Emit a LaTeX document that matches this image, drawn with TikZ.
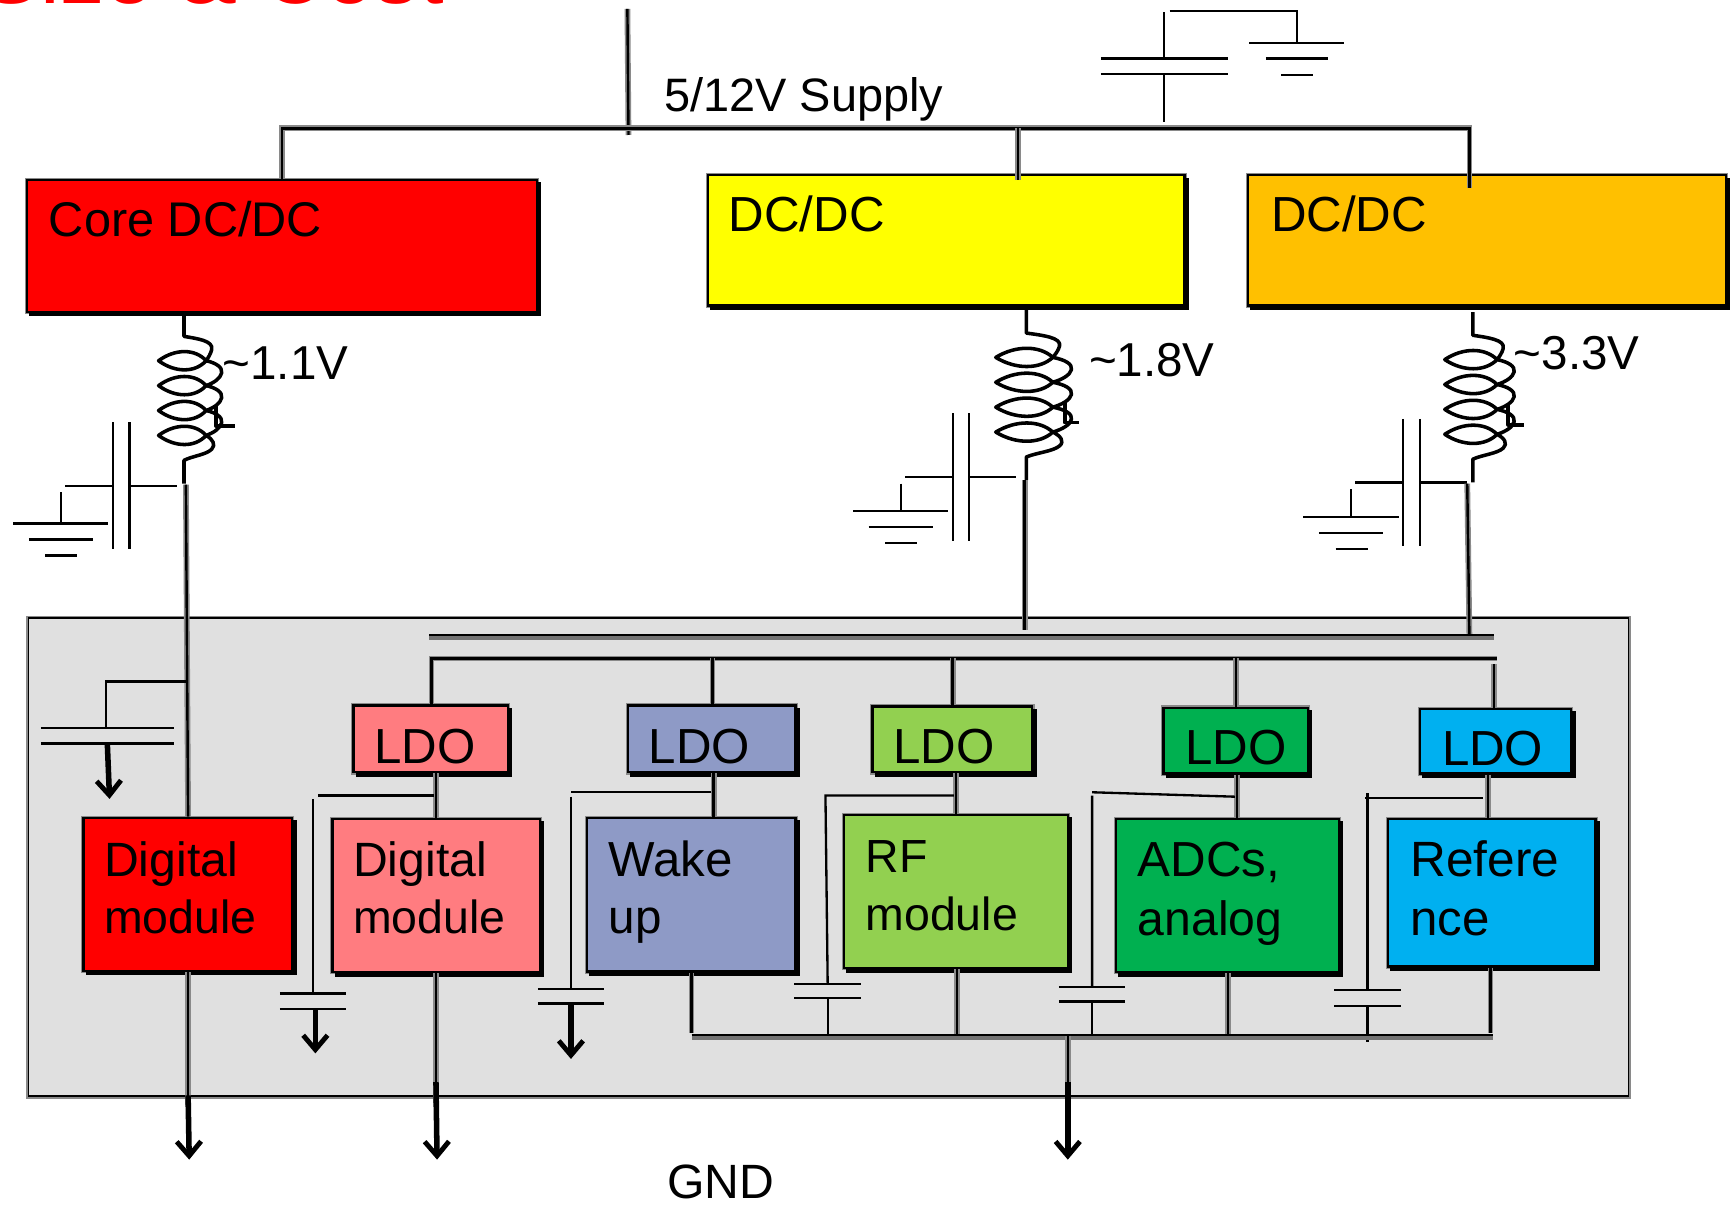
\documentclass[tikz,border=0pt]{standalone}
\usepackage{fontspec}
\setmainfont{Liberation Sans}
\usetikzlibrary{arrows.meta,shadows}
\definecolor{panelgrey}{HTML}{E0E0E0}
\definecolor{cYellow}{HTML}{FFFF00}
\definecolor{cRed}{HTML}{FF0000}
\definecolor{cOrange}{HTML}{FFC000}
\definecolor{cPink}{HTML}{FF7C80}
\definecolor{cBlue}{HTML}{8E9AC6}
\definecolor{cLime}{HTML}{92D050}
\definecolor{cGreen}{HTML}{00B050}
\definecolor{cSky}{HTML}{00B0F0}
\definecolor{halo}{HTML}{8A8A8A}
\newcommand{\fsz}[1]{\fontsize{#1}{52}\selectfont}
\tikzset{
  x=1pt,y=-1pt,
  boxn/.style={rectangle,draw=black,line width=2pt,inner sep=0pt,
    preaction={draw=halo,line width=4pt},
    copy shadow={shadow xshift=3pt,shadow yshift=-3pt,fill=black,draw=black,line width=2pt}},
  panel/.style={rectangle,draw=black,line width=1.6pt,inner sep=0pt,fill=panelgrey,
    preaction={draw=halo,line width=5pt}},
  wire/.style={draw=black,line width=2.2pt,preaction={draw=halo,line width=5.2pt}},
  busw/.style={draw=black,line width=1.8pt,preaction={draw=gray!90!black,line width=5.6pt,transform canvas={yshift=-2pt}}},
  thin wire/.style={draw=black,line width=2.1pt},
  coilw/.style={draw=black,line width=3.2pt,line join=round},
  gnd arrow/.style={draw=black,line width=5pt,-{Straight Barb[length=13pt,width=22pt,line width=4.4pt]}},
  lbl/.style={inner sep=0pt,anchor=base west,text=black},
}
% inductor: start (x,y), horizontal scale, stub end
\newcommand{\mycoil}[4]{%
\begin{scope}[shift={(#1,#2)},xscale=#3]
\draw[coilw] (0,-21) -- (0,0) .. controls (12,2) and (27,4) .. (25,12) .. controls (24,16) and (22,19) .. (20,22)
  .. controls (10,11) and (-8,11) .. (-23,22) .. controls (-8,33) and (10,33) .. (20,22)
  .. controls (29,24) and (35,28) .. (34,33) .. controls (33,38) and (27,42) .. (20,44.5)
  .. controls (10,33.5) and (-8,33.5) .. (-23,44.5) .. controls (-8,55.5) and (10,55.5) .. (20,44.5)
  .. controls (29,46.5) and (35,50.5) .. (34,55.5) .. controls (33,60.5) and (27,64.5) .. (20,67)
  .. controls (10,56) and (-8,56) .. (-23,67) .. controls (-8,78) and (10,78) .. (20,67)
  .. controls (29,69) and (35,73) .. (34,78) .. controls (33,83) and (27,87) .. (20,89.5)
  .. controls (10,78.5) and (-8,78.5) .. (-23,89.5) .. controls (-8,100.5) and (10,100.5) .. (20,89.5)
  .. controls (26,93) and (29,98) .. (25,102) .. controls (20,107) and (8,108) .. (0,112) -- (0,133);
\draw[coilw] (29,62) -- (29,81) -- (#4,81);
\end{scope}}
\newcommand{\vcapgnd}[4]{%
\begin{scope}[shift={(#1,#2)}]
\draw[thin wire] (0,-57.5) -- (0,57.5) (15,-57.5) -- (15,57.5);
\draw[thin wire] (-43,0) -- (0,0) (15,0) -- (#3,0);
\draw[thin wire] (-47,6) -- (-47,#4);
\begin{scope}[shift={(0,#4)}]
\draw[thin wire] (-90,0) -- (-4,0) (-76,14.5) -- (-18,14.5) (-61,29) -- (-32,29);
\end{scope}
\end{scope}}
\begin{document}
\begin{tikzpicture}
\useasboundingbox (0,0) rectangle (1568,1089);
% clipped title
\begin{scope}
\clip (0,0) rectangle (480,12);
\node[lbl,text=cRed] (title) at (-17,3) {\fontsize{80}{80}\selectfont Size \& Cost};
\end{scope}
% panel
\node[panel,minimum width=1446pt,minimum height=432pt,anchor=north west] (pan) at (25,558) {};
% top boxes
\node[boxn,fill=cRed,minimum width=460.5pt,minimum height=119.5pt,anchor=north west] (core) at (23.5,161.5) {};
\node[boxn,fill=cYellow,minimum width=430.5pt,minimum height=117.5pt,anchor=north west] (yel) at (639,157.5) {};
\node[boxn,fill=cOrange,minimum width=431.5pt,minimum height=117.5pt,anchor=north west] (ora) at (1127,157.5) {};
% LDOs
\node[boxn,fill=cPink,minimum width=139.5pt,minimum height=60.5pt,anchor=north west] (l1) at (318.5,636.5) {};
\node[boxn,fill=cBlue,minimum width=151.5pt,minimum height=60.5pt,anchor=north west] (l2) at (566.5,636.5) {};
\node[boxn,fill=cLime,minimum width=144.5pt,minimum height=59.5pt,anchor=north west] (l3) at (787.5,637.5) {};
\node[boxn,fill=cGreen,minimum width=130.5pt,minimum height=59.5pt,anchor=north west] (l4) at (1050.5,638.5) {};
\node[boxn,fill=cSky,minimum width=136.5pt,minimum height=58.5pt,anchor=north west] (l5) at (1282.5,639.5) {};
% modules
\node[boxn,fill=cRed,minimum width=188.5pt,minimum height=138.5pt,anchor=north west] (m0) at (74.5,738) {};
\node[boxn,fill=cPink,minimum width=187.5pt,minimum height=138.5pt,anchor=north west] (m1) at (299.5,739) {};
\node[boxn,fill=cBlue,minimum width=188.5pt,minimum height=138.5pt,anchor=north west] (m2) at (529.5,738.5) {};
\node[boxn,fill=cLime,minimum width=202.5pt,minimum height=138.5pt,anchor=north west] (m3) at (761.5,735.5) {};
\node[boxn,fill=cGreen,minimum width=201.5pt,minimum height=138.5pt,anchor=north west] (m4) at (1007.5,739) {};
\node[boxn,fill=cSky,minimum width=187.5pt,minimum height=133.5pt,anchor=north west] (m5) at (1253.5,739) {};
% supply
\coordinate (supTop) at (567,8);
\coordinate (supJ) at (568,122);
\coordinate (supL) at (255,116);
\coordinate (supM) at (920,116);
\coordinate (supR) at (1328,116);
\draw[wire] (supTop) -- (supJ);
\draw[wire] (core.north -| supL) -- (supL) -- (supR) -- (1328,170);
\draw[wire] (supM) -- (920,163);
% top cap
\coordinate (capT) at (1052,110);
\draw[thin wire] (capT) -- (1052,67) (1052,53) -- (1052,11);
\draw[thin wire] (995,53) -- (1110,53) (995,67) -- (1110,67);
\draw[thin wire] (1057,10) -- (1172,10) -- (1172,39);
\draw[thin wire] (1129,39) -- (1215,39) (1144,53) -- (1200,53) (1158,68) -- (1187,68);
% coils
\mycoil{166.3}{304}{1}{46}
\mycoil{927.5}{301}{1.2}{40}
\mycoil{1331}{303}{1.1}{42}
% vertical caps
\vcapgnd{102}{439}{58}{34}
\vcapgnd{861}{431}{57}{31}
\vcapgnd{1268}{436}{58}{31}
% rails into panel
\coordinate (r1a) at (168,438);
\coordinate (r2a) at (926,434);
\coordinate (r3a) at (1326,437);
\draw[wire] (r1a) -- (m0.north -| 170,0);
\draw[wire] (r2a) -- (926,569);
\draw[wire] (r3a) -- (1328,577);
\draw[busw] (388,573.5) -- (1350,573.5);
% LDO bus
\coordinate (b0) at (390,595);
\coordinate (b1) at (1353,595);
\draw[wire] (l1.north -| b0) -- (b0) -- (b1);
\draw[wire] (644,595) -- (l2.north -| 644,0);
\draw[wire] (861,595) -- (l3.north -| 861,0);
\draw[wire] (1117,595) -- (l4.north -| 1117,0);
\draw[wire] (1350,600) -- (l5.north -| 1350,0);
% LDO to module
\draw[wire] (l1.south -| 394,0) -- (m1.north -| 394,0);
\draw[wire] (l2.south -| 645,0) -- (m2.north -| 645,0);
\draw[wire] (l3.south -| 864,0) -- (m3.north -| 864,0);
\draw[wire] (l4.south -| 1118,0) -- (m4.north -| 1118,0);
\draw[wire] (l5.south -| 1345,0) -- (m5.north -| 1345,0);
% core cap
\draw[thin wire] (170,616) -- (96,616) -- (96,658);
\draw[thin wire] (37,658) -- (157,658) (37,672) -- (157,672);
\draw[gnd arrow] (97,672) -- (99,722);
% module caps
\draw[thin wire] (392,719) -- (287,719) (283,722) -- (283,898);
\draw[thin wire] (253,898) -- (313,898) (253,912) -- (313,912);
\draw[gnd arrow] (285,912) -- (285,952);
\draw[thin wire] (643,716) -- (516,716) (516,720) -- (516,894);
\draw[thin wire] (486,894) -- (546,894) (486,907) -- (546,907);
\draw[gnd arrow] (516,907) -- (516,957);
\draw[thin wire] (862,719) -- (746,719) -- (748,889);
\draw[thin wire] (718,889) -- (778,889) (718,902) -- (778,902) (748,902) -- (748,935);
\draw[thin wire] (1116,720) -- (987,716) (987,719) -- (987,892);
\draw[thin wire] (957,892) -- (1017,892) (957,905) -- (1017,905) (987,905) -- (987,936);
\draw[thin wire] (1340,721) -- (1234,721) (1236,717) -- (1236,895);
\draw[thin wire] (1206,895) -- (1266,895) (1206,909) -- (1266,909) (1236,909) -- (1236,942);
% grounds
\draw[wire] (m0.south -| 170,0) -- (170,1000);
\draw[gnd arrow] (170,990) -- (171,1048);
\draw[wire] (m1.south -| 394,0) -- (394,1000);
\draw[gnd arrow] (394,978) -- (395,1048);
\draw[wire] (m2.south -| 625,0) -- (625,934);
\draw[wire] (m3.south -| 865,0) -- (865,936);
\draw[wire] (m4.south -| 1110,0) -- (1110,936);
\draw[wire] (m5.south -| 1347,0) -- (1347,934);
\draw[busw] (625,935) -- (1349,935);
\draw[wire] (965,936) -- (965,1000);
\draw[gnd arrow] (965,978) -- (965,1048);
% texts
\node[lbl] (tCore) at (44,214) {\fsz{44}Core DC/DC};
\node[lbl] (tYel) at (658.5,209.5) {\fsz{44.5}DC/DC};
\node[lbl] (tOra) at (1148.5,209.5) {\fsz{44.5}DC/DC};
\node[lbl] (tSup) at (600,101) {\fsz{42.4}5/12V Supply};
\node[lbl] (tV1) at (201,343) {\fsz{43}\textasciitilde 1.1V};
\node[lbl] (tV2) at (984,340) {\fsz{43}\textasciitilde 1.8V};
\node[lbl] (tV3) at (1368,334) {\fsz{43}\textasciitilde 3.3V};
\node[lbl] (tL1) at (338,690) {\fsz{44.5}LDO};
\node[lbl] (tL2) at (586,690) {\fsz{44.5}LDO};
\node[lbl] (tL3) at (807,690) {\fsz{44.5}LDO};
\node[lbl] (tL4) at (1071,691) {\fsz{44.5}LDO};
\node[lbl] (tL5) at (1303,692) {\fsz{44.5}LDO};
\node[lbl] (tM0a) at (94,792) {\fsz{43.5}Digital};
\node[lbl] (tM0b) at (94,844) {\fsz{42}module};
\node[lbl] (tM1a) at (319,792) {\fsz{43.5}Digital};
\node[lbl] (tM1b) at (319,844) {\fsz{42}module};
\node[lbl] (tM2a) at (550,792) {\fsz{44.5}Wake};
\node[lbl] (tM2b) at (550,844) {\fsz{43}up};
\node[lbl] (tM3a) at (782,788.5) {\fsz{42}RF};
\node[lbl] (tM3b) at (782,841) {\fsz{42}module};
\node[lbl] (tM4a) at (1028,792) {\fsz{44.5}ADCs,};
\node[lbl] (tM4b) at (1028,845) {\fsz{43.5}analog};
\node[lbl] (tM5a) at (1274.5,792.5) {\fsz{44.8}Refere};
\node[lbl] (tM5b) at (1274.5,845) {\fsz{44.5}nce};
\node[lbl] (tGnd) at (603,1083.5) {\fsz{43.5}GND};
\end{tikzpicture}
\end{document}
